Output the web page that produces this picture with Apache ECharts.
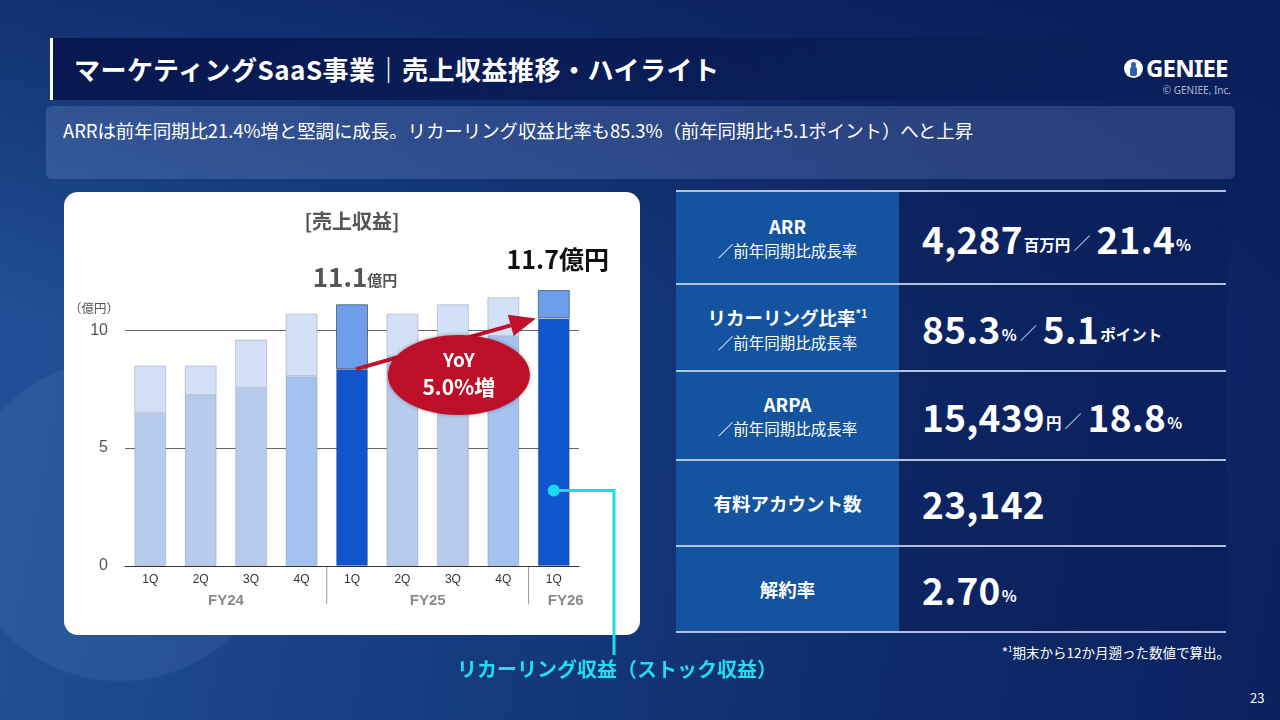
<!DOCTYPE html>
<html><head><meta charset="utf-8">
<script src="https://cdn.jsdelivr.net/npm/echarts@6/dist/echarts.min.js"></script>
<style>
html,body{margin:0;padding:0;width:1280px;height:720px;overflow:hidden;font-family:"Noto Sans CJK JP","Noto Sans",sans-serif;color:#fff;}
#bg{position:absolute;left:0;top:0;width:1280px;height:720px;
 background:
  radial-gradient(circle at 120px 520px, rgba(120,160,220,0.12) 0, rgba(120,160,220,0.12) 160px, rgba(0,0,0,0) 162px),
  linear-gradient(180deg, rgba(6,22,78,0.55) 0%, rgba(6,22,78,0) 45%),
  linear-gradient(100deg, #21539a 0%, #163d82 38%, #0f2c6a 70%, #0b2160 100%);}
#titleband{position:absolute;left:50px;top:38px;width:1190px;height:62px;background:linear-gradient(90deg,rgba(5,18,72,0.85) 0%,rgba(5,18,72,0.5) 60%,rgba(5,18,72,0) 100%);border-left:3px solid #fff;}
#title{position:absolute;left:74px;top:50px;font-size:26px;font-weight:bold;letter-spacing:0.5px;white-space:nowrap;line-height:38px;}
#logo{position:absolute;left:1124px;top:53px;font-family:"Noto Sans","DejaVu Sans",sans-serif;font-size:24px;font-weight:bold;white-space:nowrap;line-height:30px;letter-spacing:-0.8px;}
#logo .ic{display:inline-block;width:19px;height:19px;border-radius:50%;background:#fff;vertical-align:-1px;margin-right:3px;position:relative;}
#logo .ic:after{content:"";position:absolute;left:6px;top:7px;width:7px;height:10px;border-radius:4px 4px 3px 3px;background:#2b5fae;}
#logo .ic:before{content:"";position:absolute;left:7px;top:3px;width:5px;height:5px;border-radius:50%;background:#2b5fae;}
#copy{position:absolute;right:49px;top:83px;font-size:10px;color:#aeb8d4;font-family:"Noto Sans",sans-serif;}
#sub{position:absolute;left:46px;top:106px;width:1189px;height:73px;border-radius:6px;background:rgba(150,175,230,0.22);}
#subtext{position:absolute;left:63px;top:117px;font-size:18.5px;line-height:26px;white-space:nowrap;letter-spacing:-0.1px;}
#panel{position:absolute;left:64px;top:192px;width:576px;height:443px;background:#fff;border-radius:14px;}
#tbl{position:absolute;left:676px;top:190px;width:550px;height:444px;}
.row{position:absolute;left:0;width:550px;}
.lab{position:absolute;left:0;top:0;width:223px;height:100%;background:#1453a0;display:flex;flex-direction:column;justify-content:center;align-items:center;text-align:center;}
.val{position:absolute;left:223px;top:0;width:327px;height:100%;background:rgba(8,26,86,0.35);display:flex;align-items:center;padding-left:23px;box-sizing:border-box;white-space:nowrap;}
.l1{font-size:18.5px;font-weight:bold;line-height:25px;}
.l2{font-size:15.5px;line-height:23px;}
.num{font-size:37px;font-weight:bold;line-height:44px;letter-spacing:0.3px;}
.u{font-size:15.5px;font-weight:bold;margin-left:1px;position:relative;top:6px;}
.sl{font-size:17px;color:#dfe6f5;margin:0 6px 0 3px;position:relative;top:5px;}
.hl{position:absolute;left:676px;width:550px;height:2px;background:rgba(210,218,236,0.85);}
#foot{position:absolute;right:50px;top:639px;font-size:13.5px;line-height:20px;white-space:nowrap;}
#foot sup{font-size:8px;}
#page{position:absolute;left:1250px;top:688px;font-size:13px;}
#chart{position:absolute;left:0;top:0;width:1280px;height:720px;z-index:5;}
</style></head><body>
<div id="bg"></div>
<div id="titleband"></div>
<div id="title">マーケティングSaaS事業｜売上収益推移・ハイライト</div>
<div id="logo"><span class="ic"></span>GENIEE</div>
<div id="copy">© GENIEE, Inc.</div>
<div id="sub"></div>
<div id="subtext">ARRは前年同期比21.4%増と堅調に成長。リカーリング収益比率も85.3%（前年同期比+5.1ポイント）へと上昇</div>
<div id="panel"></div>

<div class="hl" style="top:190px"></div>
<div class="hl" style="top:283px"></div>
<div class="hl" style="top:370px"></div>
<div class="hl" style="top:459px"></div>
<div class="hl" style="top:545px"></div>
<div class="hl" style="top:631px"></div>
<div id="tbl">
 <div class="row" style="top:2px;height:91px">
  <div class="lab"><div class="l1">ARR</div><div class="l2">／前年同期比成長率</div></div>
  <div class="val"><span class="num">4,287</span><span class="u">百万円</span><span class="sl">／</span><span class="num">21.4</span><span class="u">%</span></div>
 </div>
 <div class="row" style="top:95px;height:85px">
  <div class="lab"><div class="l1">リカーリング比率<sup style="font-size:11px">*1</sup></div><div class="l2">／前年同期比成長率</div></div>
  <div class="val"><span class="num">85.3</span><span class="u">%</span><span class="sl">／</span><span class="num">5.1</span><span class="u">ポイント</span></div>
 </div>
 <div class="row" style="top:182px;height:87px">
  <div class="lab"><div class="l1">ARPA</div><div class="l2">／前年同期比成長率</div></div>
  <div class="val"><span class="num">15,439</span><span class="u">円</span><span class="sl">／</span><span class="num">18.8</span><span class="u">%</span></div>
 </div>
 <div class="row" style="top:271px;height:84px">
  <div class="lab"><div class="l1">有料アカウント数</div></div>
  <div class="val"><span class="num">23,142</span></div>
 </div>
 <div class="row" style="top:357px;height:84px">
  <div class="lab"><div class="l1">解約率</div></div>
  <div class="val"><span class="num">2.70</span><span class="u">%</span></div>
 </div>
</div>
<div id="foot">*<sup>1</sup>期末から12か月遡った数値で算出。</div>
<div id="page">23</div>
<div id="chart"></div>
<script>
// ---- data ----
const categories = ['1Q','2Q','3Q','4Q','1Q','2Q','3Q','4Q','1Q'];
const fiscalYears = ['FY24','FY25','FY26'];
const fiscalYearStart = [0,4,8];
const fiscalYearEnd = [3,7,8];
const totalRevenue = [8.5, 8.5, 9.6, 10.7, 11.1, 10.7, 11.1, 11.4, 11.7];
const recurringRevenue = [6.5, 7.25, 7.55, 8.05, 8.35, 8.9, 9.2, 9.75, 10.5];
const highlighted = [false,false,false,false,true,false,false,false,true];
const quarter4 = [false,false,false,true,false,false,false,true,false];
const labelledPoints = [4, 8];
const yAxisMax = 12;
const yAxisInterval = 5;
const chartTitle = '[売上収益]';
const unitLabel = '（億円）';
const yoyLines = ['YoY', '5.0%増'];
const calloutLabel = 'リカーリング収益（ストック収益）';

const otherRevenue = totalRevenue.map((t,i)=>+(t - recurringRevenue[i]).toFixed(2));

const chart = echarts.init(document.getElementById('chart'), null, {renderer:'canvas'});
const FONT = '"Noto Sans CJK JP","Noto Sans",sans-serif';

function lowerColor(i){ return highlighted[i] ? '#1155cc' : (quarter4[i] ? '#a6c2f1' : '#b8cbec'); }
function upperColor(i){ return highlighted[i] ? '#6d9eeb' : '#d2e0f8'; }

chart.setOption({
  backgroundColor:'transparent',
  animation:false,
  textStyle:{fontFamily:FONT},
  grid:{left:125, top:283, width:454, height:283, containLabel:false},
  xAxis:{type:'category', data:categories,
    axisLine:{lineStyle:{color:'#333', width:1}}, axisTick:{show:false},
    axisLabel:{color:'#333', fontSize:12, margin:8, fontFamily:'"Liberation Sans",Arial,sans-serif'}},
  yAxis:{type:'value', min:0, max:yAxisMax, interval:yAxisInterval,
    axisLine:{show:false}, axisTick:{show:false},
    axisLabel:{color:'#555', fontSize:16, margin:17, showMaxLabel:false, fontFamily:'"Liberation Sans",Arial,sans-serif'},
    splitLine:{show:true, showMinLine:false, showMaxLine:false, lineStyle:{color:'#666', width:1}}},
  series:[
    {type:'bar', stack:'rev', barWidth:32, z:2,
     data: recurringRevenue.map((v,i)=>({value:v, itemStyle:{color:lowerColor(i), borderColor:'rgba(70,80,100,0.22)', borderWidth:1}}))},
    {type:'bar', stack:'rev', barWidth:32, z:2,
     data: otherRevenue.map((v,i)=>{
       const item = {value:v, itemStyle:{color:upperColor(i), borderColor: highlighted[i] ? 'rgba(40,50,70,0.6)' : 'rgba(70,80,100,0.25)', borderWidth:1}};
       if (labelledPoints.includes(i)) {
         const txt = totalRevenue[i].toFixed(1);
         const last = i === labelledPoints[labelledPoints.length-1];
         item.label = {show:true, position:'top',
           distance: last ? 18 : 14, offset: last ? [4,0] : [3,0],
           formatter: last ? '{b2|' + txt + '億円}' : '{b1|' + txt + '}{u1|億円}',
           rich:{
             b1:{fontSize:26, fontWeight:'bold', color:'#555', fontFamily:FONT},
             u1:{fontSize:15, fontWeight:'bold', color:'#555', fontFamily:FONT, padding:[6,0,0,0]},
             b2:{fontSize:25, fontWeight:'bold', color:'#111', fontFamily:FONT}
           }};
       }
       return item;
     })}
  ]
});

function px(i, v){ return chart.convertToPixel({gridIndex:0}, [i, v]); }
const g = [];
const base = px(0,0)[1];
// chart title
g.push({type:'text', x:352, y:221, style:{text:chartTitle, fill:'#555', font:'bold 20px '+FONT, align:'center', verticalAlign:'middle'}});
// unit
const yTopTick = px(0, 11)[1];
g.push({type:'text', x:94, y:yTopTick+2, style:{text:unitLabel, fill:'#555', font:'12.5px '+FONT, align:'center', verticalAlign:'middle'}});
// FY group labels & separators
const step = px(1,0)[0] - px(0,0)[0];
fiscalYears.forEach((fy,k)=>{
  const x0 = px(fiscalYearStart[k],0)[0], x1 = px(fiscalYearEnd[k],0)[0];
  let cx = (x0+x1)/2;
  if (k === fiscalYears.length-1) cx += 12;
  g.push({type:'text', x:cx, y:base+35, style:{text:fy, fill:'#8a8a8a', font:'bold 15px "Liberation Sans",Arial,sans-serif', align:'center', verticalAlign:'middle'}});
  if (k > 0) {
    const sx = x0 - step/2;
    g.push({type:'line', shape:{x1:sx, y1:base, x2:sx, y2:base+38}, style:{stroke:'#9a9a9a', lineWidth:1}});
  }
});
// YoY arrow
const a0 = px(4, recurringRevenue[4]); const a1 = px(8, recurringRevenue[8]);
const sx = a0[0]+4, sy = a0[1], ex = a1[0]-18, ey = a1[1];
const ang = Math.atan2(ey-sy, ex-sx);
const hl = 26, hw = 11;
const bx = ex - hl*Math.cos(ang), by = ey - hl*Math.sin(ang);
g.push({type:'line', z:10, shape:{x1:sx, y1:sy, x2:bx, y2:by}, style:{stroke:'#c1102b', lineWidth:4}});
g.push({type:'polygon', z:10, shape:{points:[[ex,ey],[bx - hw*Math.sin(ang), by + hw*Math.cos(ang)],[bx + hw*Math.sin(ang), by - hw*Math.cos(ang)]]}, style:{fill:'#c1102b'}});
// ellipse
const ec = px(6, 8.1);
const ecx = ec[0]+6, ecy = ec[1];
g.push({type:'ellipse', z:11, shape:{cx:ecx, cy:ecy, rx:71, ry:40}, style:{fill:'#be0f28', shadowBlur:4, shadowColor:'rgba(0,0,0,0.35)'}});
g.push({type:'text', z:12, x:ecx, y:ecy-15, style:{text:yoyLines[0], fill:'#fff', font:'bold 19px '+FONT, align:'center', verticalAlign:'middle'}});
g.push({type:'text', z:12, x:ecx, y:ecy+12, style:{text:yoyLines[1], fill:'#fff', font:'bold 21px '+FONT, align:'center', verticalAlign:'middle'}});
// callout
const dp = px(8, 3.2);
const lx = 614, ly2 = 655;
g.push({type:'polyline', z:10, shape:{points:[[dp[0],dp[1]],[lx,dp[1]],[lx,ly2]]}, style:{stroke:'#1fd9ee', lineWidth:3, fill:null}});
g.push({type:'circle', z:11, shape:{cx:dp[0], cy:dp[1], r:6}, style:{fill:'#1fd9ee'}});
g.push({type:'text', z:11, x:lx+3, y:669, style:{text:calloutLabel, fill:'#22dcf0', font:'bold 20px '+FONT, align:'center', verticalAlign:'middle'}});
chart.setOption({graphic:g});
</script>
</body></html>
